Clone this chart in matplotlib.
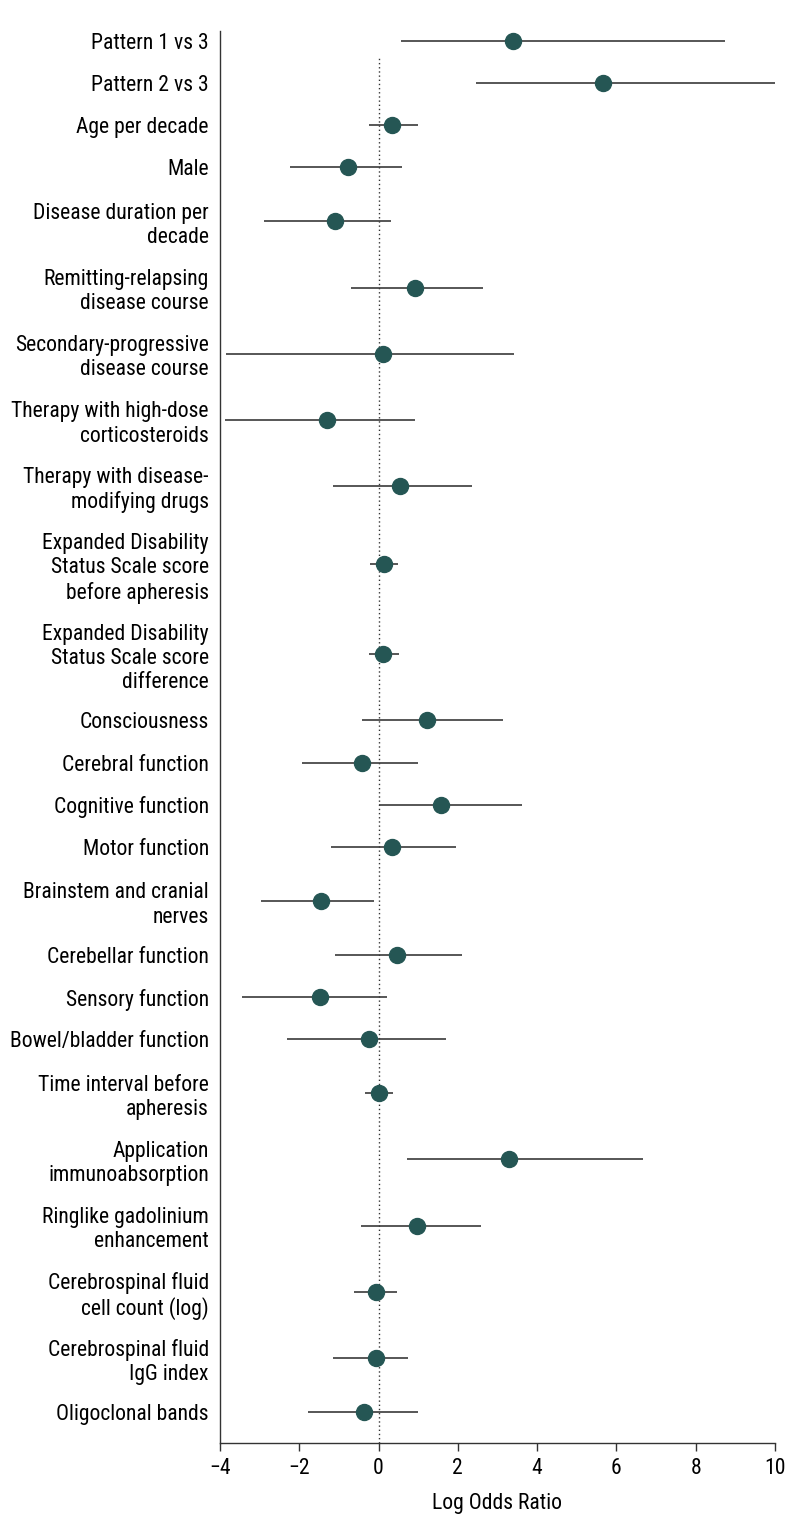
import matplotlib
matplotlib.use("Agg")
import matplotlib.pyplot as plt
from matplotlib import font_manager as fm
import numpy as np

labels = [
    "Pattern 1 vs 3",
    "Pattern 2 vs 3",
    "Age per decade",
    "Male",
    "Disease duration per\ndecade",
    "Remitting-relapsing\ndisease course",
    "Secondary-progressive\ndisease course",
    "Therapy with high-dose\ncorticosteroids",
    "Therapy with disease-\nmodifying drugs",
    "Expanded Disability\nStatus Scale score\nbefore apheresis",
    "Expanded Disability\nStatus Scale score\ndifference",
    "Consciousness",
    "Cerebral function",
    "Cognitive function",
    "Motor function",
    "Brainstem and cranial\nnerves",
    "Cerebellar function",
    "Sensory function",
    "Bowel/bladder function",
    "Time interval before\napheresis",
    "Application\nimmunoabsorption",
    "Ringlike gadolinium\nenhancement",
    "Cerebrospinal fluid\ncell count (log)",
    "Cerebrospinal fluid\nIgG index",
    "Oligoclonal bands",
]
log_or = [3.38, 5.67, 0.35, -0.77, -1.11, 0.93, 0.10, -1.31, 0.55, 0.13, 0.11,
          1.22, -0.43, 1.57, 0.33, -1.45, 0.46, -1.49, -0.25, 0.00, 3.29, 0.97,
          -0.06, -0.06, -0.38]
ci_low = [0.57, 2.45, -0.25, -2.24, -2.90, -0.69, -3.86, -3.88, -1.14, -0.22, -0.25,
          -0.43, -1.94, 0.02, -1.21, -2.96, -1.09, -3.44, -2.32, -0.34, 0.71, -0.45,
          -0.61, -1.14, -1.78]
ci_high = [8.73, 10.0, 0.99, 0.60, 0.32, 2.64, 3.42, 0.91, 2.36, 0.49, 0.51,
           3.13, 1.00, 3.61, 1.96, -0.11, 2.11, 0.21, 1.69, 0.37, 6.67, 2.59,
           0.47, 0.74, 1.00]
xticks = [-4, -2, 0, 2, 4, 6, 8, 10]

# ---- pick a condensed sans if one is installed ----
font_path = None
cond_names = ["Roboto Condensed", "Open Sans Condensed", "Liberation Sans Narrow",
              "Noto Sans Condensed"]
for f in fm.fontManager.ttflist:
    if f.name in cond_names and f.style == "normal" and f.weight in (400, "normal", "regular"):
        font_path = f.fname
        break
if font_path is None:
    for want in ("condensed", "semi-condensed"):
        for f in fm.fontManager.ttflist:
            if f.name in ("Noto Sans", "Open Sans", "Roboto") and f.stretch == want \
                    and f.style == "normal" and f.weight in (400, "normal", "regular"):
                font_path = f.fname
                break
        if font_path:
            break
if font_path is not None:
    base_fp = fm.FontProperties(fname=font_path)
else:
    base_fp = fm.FontProperties(family="Lato")

# layout: row height grows with number of label lines
nlines = [l.count("\n") + 1 for l in labels]
half = [9 + 12 * n for n in nlines]
ypos = [0.0]
for i in range(1, len(labels)):
    ypos.append(ypos[-1] + half[i - 1] + half[i])
ypos = np.array(ypos)

W, H = 794, 1528
fig = plt.figure(figsize=(W / 100, H / 100), dpi=100)
renderer = fig.canvas.get_renderer()

# fit font size so the widest single line matches the reference width (~195 px)
probe_fp = base_fp.copy()
probe_fp.set_size(14)
t = fig.text(0, 0, "Secondary-progressive", fontproperties=probe_fp)
wpx = t.get_window_extent(renderer).width
t.remove()
fsize = min(14 * 195.0 / wpx, 17)
fp = base_fp.copy()
fp.set_size(fsize)

ax_left, ax_right, ax_top, ax_bot = 220, 775, 31, 1443
ax = fig.add_axes([ax_left / W, 1 - ax_bot / H, (ax_right - ax_left) / W, (ax_bot - ax_top) / H])

ax.set_ylim(ypos[-1] + 31, ypos[0] - 10)
ax.set_xlim(-4, 10)

line_col = "#3a3a3a"
dot_col = "#255654"

ax.axvline(0, ymin=0, ymax=(1443 - 56) / (1443 - 31), color="#333333", lw=1.0,
           ls=(0, (1, 2)), zorder=1)
ax.hlines(ypos, ci_low, ci_high, color=line_col, lw=1.2, zorder=2)
ax.plot(log_or, ypos, 'o', color=dot_col, markersize=11.5, zorder=3, mec=dot_col)

ax.set_yticks(ypos)
ax.set_yticklabels(labels, fontproperties=fp, linespacing=1.2)
ax.tick_params(axis='y', length=0, pad=8)
ax.set_xticks(xticks)
ax.set_xticklabels([str(v).replace("-", "\u2212") for v in xticks], fontproperties=fp)
ax.tick_params(axis='x', length=6, width=1, color="#333333", pad=5)
ax.set_xlabel("Log Odds Ratio", fontproperties=fp, labelpad=10)

for s in ["top", "right"]:
    ax.spines[s].set_visible(False)
for s in ["left", "bottom"]:
    ax.spines[s].set_color("#333333")
    ax.spines[s].set_linewidth(1.0)

fig.savefig("out.png", dpi=100)
